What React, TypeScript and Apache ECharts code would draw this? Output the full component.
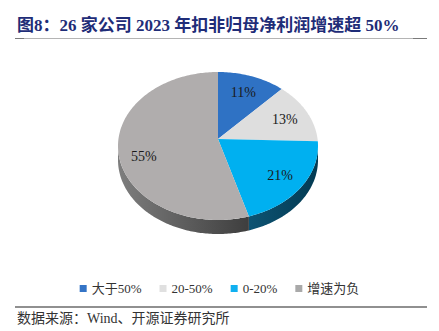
import React, { useEffect, useRef } from "react";
import * as echarts from "echarts";

const categories = ["大于50%", "20-50%", "0-20%", "增速为负"];
const values = [11, 13, 21, 55];
const sliceLabels = ["11%", "13%", "21%", "55%"];
const titleText = "图8：26 家公司 2023 年扣非归母净利润增速超 50%";
const sourceText = "数据来源：Wind、开源证券研究所";

const topColors = ["#2f72c4", "#dedede", "#00b0f0", "#b0adad"];
const legendColors = ["#3474c6", "#e0e0e0", "#10b0f0", "#a9a9a9"];
const sideColors: [string, string][] = [
  ["#1d4f8c", "#163f72"],
  ["#9a9a9a", "#888888"],
  ["#0d5373", "#033a52"],
  ["#7e7e7e", "#3e3e3e"],
];

const CX = 218;
const CY = 146;
const RX = 100;
const RY = 74;
const VX = 218;
const VY = 139;
const DEPTH = 14;
const SERIF = "'Times New Roman', 'Liberation Serif', 'Noto Sans CJK SC', serif";

function pt(t: number): number[] {
  return [CX + RX * Math.sin(t), CY - RY * Math.cos(t)];
}

function arc(a0: number, a1: number): number[][] {
  const pts: number[][] = [];
  const n = Math.max(2, Math.ceil(((a1 - a0) * 180) / Math.PI));
  for (let i = 0; i <= n; i++) pts.push(pt(a0 + ((a1 - a0) * i) / n));
  return pts;
}

export default function App() {
  const ref = useRef<HTMLDivElement>(null);
  useEffect(() => {
    document.body.style.margin = "0";
    if (!ref.current) return;
    const chart = echarts.init(ref.current, undefined, { renderer: "svg" });
    const total = values.reduce((a, b) => a + b, 0);
    const starts: number[] = [];
    let acc = 0;
    values.forEach((v) => {
      starts.push((acc / total) * Math.PI * 2);
      acc += v;
    });

    const makeRender = (i: number) => (params: any, api: any) => {
      const a0 = starts[i];
      const a1 = a0 + (api.value(0) / total) * Math.PI * 2;
      const children: any[] = [];
      const s = Math.max(a0, Math.PI / 2);
      const e = Math.min(a1, (Math.PI * 3) / 2);
      if (s < e) {
        const top = arc(s, e);
        const bottom = top.map((p) => [p[0], p[1] + DEPTH]).reverse();
        children.push({
          type: "polygon",
          shape: { points: top.concat(bottom) },
          style: {
            fill: new echarts.graphic.LinearGradient(0, 0, 1, 0, [
              { offset: 0, color: sideColors[i][0] },
              { offset: 1, color: sideColors[i][1] },
            ]),
          },
        });
      }
      children.push({
        type: "polygon",
        shape: { points: [[VX, VY]].concat(arc(a0, a1)) },
        style: { fill: topColors[i] },
      });
      const mid = (a0 + a1) / 2;
      const E = pt(mid);
      const r = 0.75;
      children.push({
        type: "text",
        x: VX + (E[0] - VX) * r,
        y: VY + (E[1] - VY) * r + (i === 3 ? 4 : 0),
        style: {
          text: sliceLabels[i],
          fill: "#1a1a1a",
          fontSize: 14,
          fontFamily: SERIF,
          align: "center",
          verticalAlign: "middle",
        },
      });
      return { type: "group", children };
    };

    chart.setOption({
      animation: false,
      legend: {
        data: categories,
        left: "center",
        top: 277,
        icon: "rect",
        itemWidth: 7,
        itemHeight: 7,
        itemGap: 18,
        textStyle: { fontSize: 13, fontFamily: SERIF, color: "#333" },
      },
      series: categories.map((name, i) => ({
        type: "custom",
        name,
        coordinateSystem: "none",
        data: [[values[i]]],
        itemStyle: { color: legendColors[i] },
        renderItem: makeRender(i),
      })),
      graphic: [
        {
          type: "text",
          left: 17,
          top: 17,
          style: {
            text: titleText,
            fill: "#1f2d78",
            fontSize: 17,
            fontWeight: "bold",
            fontFamily: SERIF,
          },
        },
        { type: "line", shape: { x1: 15, y1: 38.5, x2: 427, y2: 38.5 }, style: { stroke: "#b4b4b4", lineWidth: 1 } },
        { type: "line", shape: { x1: 15, y1: 38.5, x2: 24, y2: 38.5 }, style: { stroke: "#7a7a7a", lineWidth: 1 } },
        { type: "line", shape: { x1: 413, y1: 38.5, x2: 427, y2: 38.5 }, style: { stroke: "#7a7a7a", lineWidth: 1 } },
        { type: "line", shape: { x1: 15, y1: 307, x2: 427, y2: 307 }, style: { stroke: "#222", lineWidth: 1.2 } },
        {
          type: "text",
          left: 17,
          top: 311,
          style: { text: sourceText, fill: "#333", fontSize: 14, fontFamily: SERIF },
        },
      ],
    });
    return () => chart.dispose();
  }, []);
  return <div ref={ref} style={{ width: 439, height: 331 }} />;
}
